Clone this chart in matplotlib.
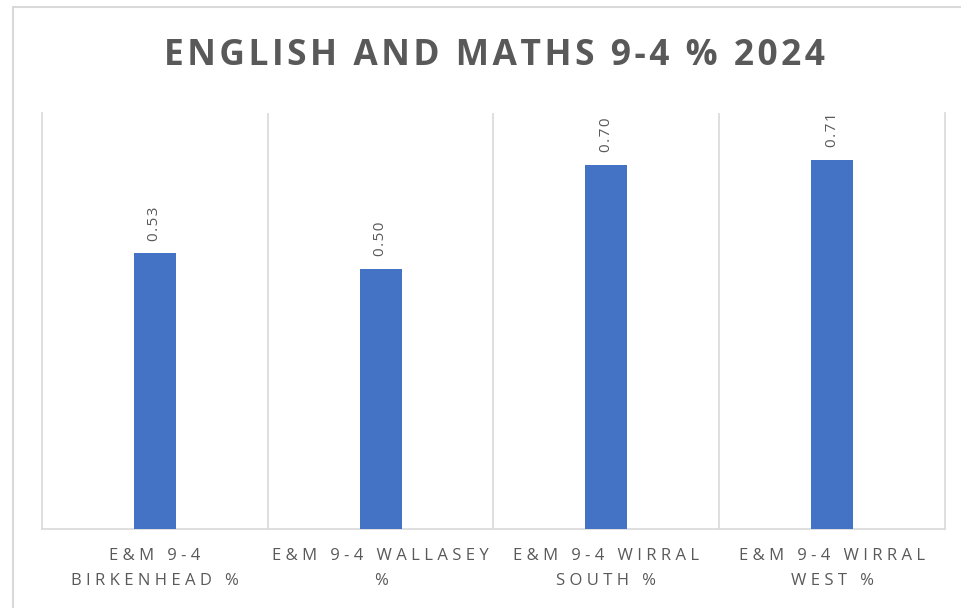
import matplotlib.pyplot as plt
from matplotlib.patches import Rectangle

# data
categories = ["E&M 9-4\nBIRKENHEAD %", "E&M 9-4 WALLASEY\n%",
              "E&M 9-4 WIRRAL\nSOUTH %", "E&M 9-4 WIRRAL\nWEST %"]
values = [0.53, 0.50, 0.70, 0.71]
title = "ENGLISH AND MATHS 9-4 % 2024"

def spaced(s, sep="\u200a"):
    # crude letter spacing
    return "\n".join(sep.join(line) for line in s.split("\n"))

plt.rcParams['font.family'] = ['Open Sans', 'DejaVu Sans']

fig = plt.figure(figsize=(9.62, 6.08), dpi=100)
fig.patches.append(Rectangle((13 / 962, -0.1), 1.2, (608 - 7) / 608 + 0.1,
                             transform=fig.transFigure, fill=False,
                             edgecolor="#d9d9d9", linewidth=1.5))

ax = fig.add_axes([42 / 962, 79 / 608, 903 / 962, 416 / 608])
x = range(len(values))
bars = ax.bar(x, values, width=0.186, color="#4472C4", zorder=3)

ax.set_xlim(-0.5, len(values) - 0.5)
ax.set_ylim(0, 0.8)
for b in [i + 0.5 for i in range(len(values) - 1)]:
    ax.axvline(b, color="#d9d9d9", linewidth=1.2, zorder=1)

for rect, v in zip(bars, values):
    ax.annotate(spaced(f"{v:.2f}"), (rect.get_x() + rect.get_width() / 2, v),
                xytext=(0, 9), textcoords="offset points", rotation=90,
                ha="center", va="bottom", fontsize=11, color="#595959")

ax.set_xticks(list(x))
ax.set_xticklabels([spaced(c, "\u2009\u200a") for c in categories], fontsize=12,
                   color="#595959", linespacing=1.7)
ax.tick_params(axis="x", length=0, pad=14)
ax.set_yticks([])
ax.spines["top"].set_visible(False)
for s in ["left", "right", "bottom"]:
    ax.spines[s].set_color("#d9d9d9")
    ax.spines[s].set_linewidth(1.2)

fig.text(494 / 962, 1 - 56 / 608, spaced(title), ha="center",
         va="center", fontsize=25.5, fontweight="bold", color="#595959")

fig.savefig("out.png", dpi=100)
